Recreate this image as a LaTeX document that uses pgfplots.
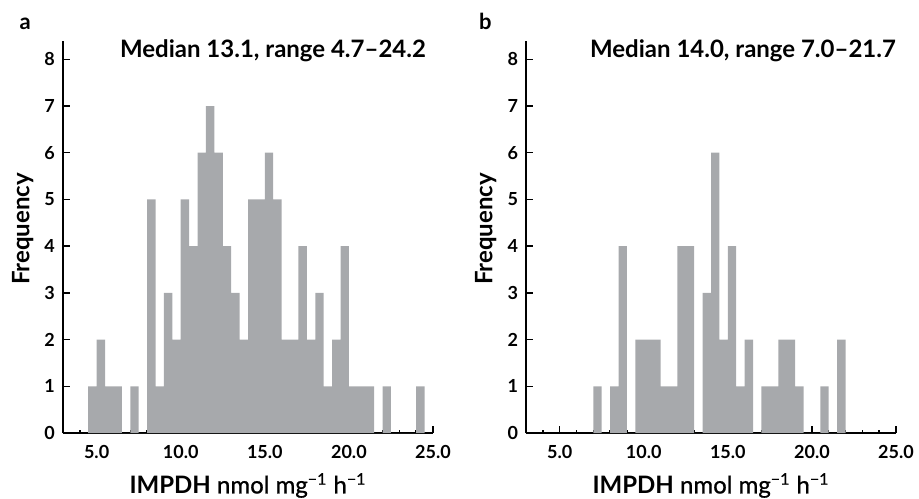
\documentclass[border=0pt]{standalone}
\usepackage{fontspec}
\setmainfont{Lato}
\newfontfamily\latomed{Lato}[FakeBold=0.8]
\usepackage{pgfplots}
\usepackage{pgfplotstable}
\pgfplotsset{compat=1.18}
\definecolor{barcol}{RGB}{167,169,172}

% bin start, count (bins 0.5 wide; last row closes the final bin)
\pgfplotstableread{
x y
4.5 1
5.0 2
5.5 1
6.0 1
6.5 0
7.0 1
7.5 0
8.0 5
8.5 1
9.0 3
9.5 2
10.0 5
10.5 4
11.0 6
11.5 7
12.0 6
12.5 4
13.0 3
13.5 2
14.0 5
14.5 5
15.0 6
15.5 5
16.0 2
16.5 2
17.0 4
17.5 2
18.0 3
18.5 1
19.0 2
19.5 4
20.0 1
20.5 1
21.0 1
21.5 0
22.0 1
22.5 0
23.0 0
23.5 0
24.0 1
24.5 1
}\dataA

\pgfplotstableread{
x y
7.0 1
7.5 0
8.0 1
8.5 4
9.0 0
9.5 2
10.0 2
10.5 2
11.0 1
11.5 1
12.0 4
12.5 4
13.0 0
13.5 3
14.0 6
14.5 2
15.0 4
15.5 1
16.0 2
16.5 0
17.0 1
17.5 1
18.0 2
18.5 2
19.0 1
19.5 0
20.0 0
20.5 1
21.0 0
21.5 2
22.0 2
}\dataB

\pgfplotsset{
  histo/.style={
    scale only axis,
    width=185pt, height=196.2pt,
    xmin=3, xmax=25, ymin=0, ymax=8.4,
    axis x line*=bottom, axis y line*=left,
    axis line style={-, line width=1pt},
    tick align=inside,
    major tick length=3.4pt, minor tick length=1.7pt,
    every tick/.style={black, line width=0.75pt},
    xtick={5,10,15,20,25}, minor xtick={3,4,...,25},
    ytick={0,1,...,8},
    /pgf/number format/assume math mode=true,
    every tick label/.append style={font=\fontsize{9}{10}\selectfont\bfseries},
    xticklabel style={anchor=base, yshift=-12.5pt, /pgf/number format/.cd, fixed, fixed zerofill, precision=1},
    yticklabel style={xshift=-0.5pt},
    xlabel={\textbf{IMPDH} {\latomed nmol mg\textsuperscript{−1} h\textsuperscript{−1}}},
    xlabel style={font=\fontsize{12}{14}\selectfont, at={(axis description cs:0.5,-0.154)}, anchor=base},
    ylabel={Frequency},
    ylabel style={font=\fontsize{12}{14}\selectfont\bfseries, at={(axis description cs:-0.109,0.52)}, anchor=center},
    clip=false,
  }
}

\begin{document}
\begin{tikzpicture}
\useasboundingbox (-31.5pt,-32.5pt) rectangle (428pt,216.5pt);

\begin{axis}[histo, at={(0,0)}, anchor=south west]
\addplot[ybar interval, fill=barcol, draw=none] table[x=x, y=y] {\dataA};
\node[anchor=base east, font=\fontsize{12}{14}\selectfont\bfseries] at (rel axis cs:1,0.956) {Median 13.1, range 4.7–24.2};
\node[anchor=base west, font=\fontsize{11}{13}\selectfont\bfseries] at (axis description cs:-0.136,1.028) {a};
\end{axis}

\begin{axis}[histo, at={(231.5pt,0)}, anchor=south west]
\addplot[ybar interval, fill=barcol, draw=none] table[x=x, y=y] {\dataB};
\node[anchor=base east, xshift=3.5pt, font=\fontsize{12}{14}\selectfont\bfseries] at (rel axis cs:1,0.956) {Median 14.0, range 7.0–21.7};
\node[anchor=base west, font=\fontsize{11}{13}\selectfont\bfseries] at (axis description cs:-0.146,1.028) {b};
\end{axis}
\end{tikzpicture}
\end{document}
